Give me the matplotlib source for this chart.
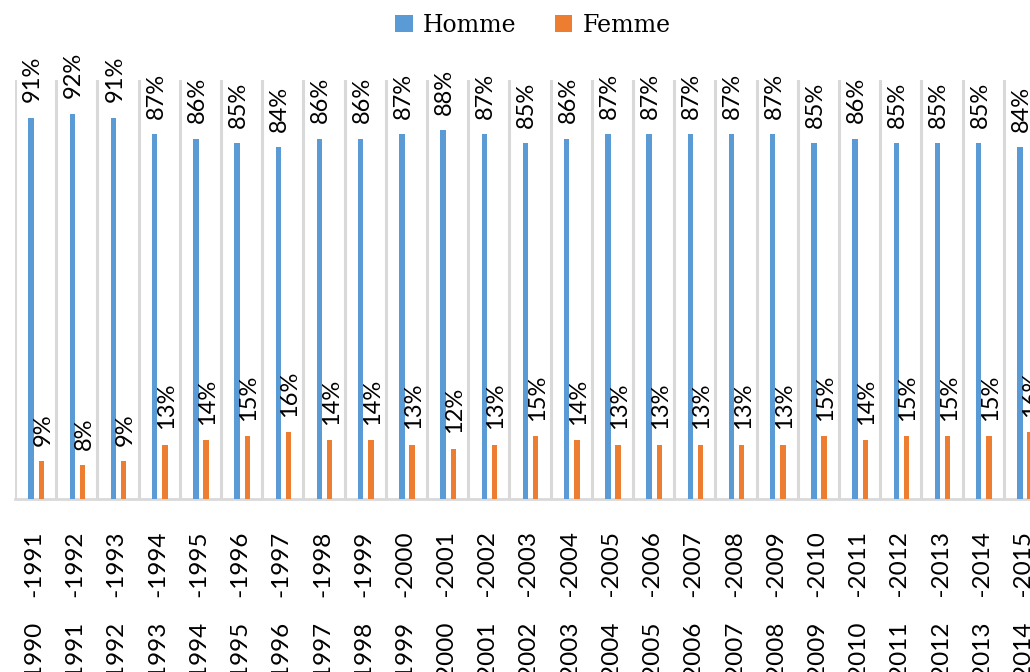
import numpy as np
import matplotlib.pyplot as plt

periods = ["1990    -1991", "1991    -1992", "1992    -1993", "1993    -1994", "1994    -1995",
           "1995    -1996", "1996    -1997", "1997    -1998", "1998    -1999", "1999    -2000",
           "2000    -2001", "2001    -2002", "2002    -2003", "2003    -2004", "2004    -2005",
           "2005    -2006", "2006    -2007", "2007    -2008", "2008    -2009", "2009    -2010",
           "2010    -2011", "2011    -2012", "2012    -2013", "2013    -2014", "2014    -2015"]
homme = [91, 92, 91, 87, 86, 85, 84, 86, 86, 87, 88, 87, 85, 86, 87,
         87, 87, 87, 87, 85, 86, 85, 85, 85, 84]
femme = [9, 8, 9, 13, 14, 15, 16, 14, 14, 13, 12, 13, 15, 14, 13,
         13, 13, 13, 13, 15, 14, 15, 15, 15, 16]

blue = '#5B9BD5'
orange = '#ED7D31'
grid = '#D9D9D9'

fig = plt.figure(figsize=(10.3, 6.72), dpi=100)
ax = fig.add_axes([15/1030, 173/672, 1.0, 419/672])

x = np.arange(len(periods))
w = 0.13
b1 = ax.bar(x - 0.11, homme, w, color=blue, label='Homme', zorder=3)
b2 = ax.bar(x + 0.14, femme, w, color=orange, label='Femme', zorder=3)

# separators between the school years
for k in range(len(periods) + 1):
    ax.axvline(k - 0.5, color=grid, lw=2.2, zorder=1)

for xi, v in zip(x - 0.11, homme):
    ax.annotate(f"{v}%", (xi, v), xytext=(1, 11), textcoords='offset points',
                rotation=90, ha='center', va='bottom', fontsize=17, family='Lato')
for xi, v in zip(x + 0.14, femme):
    ax.annotate(f"{v}%", (xi, v), xytext=(1, 11), textcoords='offset points',
                rotation=90, ha='center', va='bottom', fontsize=17, family='Lato')

ax.set_xlim(-0.5, len(periods) - 0.5)
ax.set_ylim(0, 100)
ax.set_xticks(x)
ax.set_xticklabels(periods, rotation=90, fontsize=17.5, family='Lato')
ax.tick_params(axis='x', length=0, pad=24)
ax.set_yticks([])
for s in ['top', 'left', 'right']:
    ax.spines[s].set_visible(False)
ax.spines['bottom'].set_color(grid)
ax.spines['bottom'].set_linewidth(2)

fig.legend(handles=[b1, b2], loc='center', bbox_to_anchor=(533/1030, 1 - 25/672),
           ncol=2, frameon=False, prop={'family': 'DejaVu Serif', 'size': 17},
           handlelength=0.75, handleheight=0.75, columnspacing=1.6, handletextpad=0.45)

fig.savefig('out.png', dpi=100)
